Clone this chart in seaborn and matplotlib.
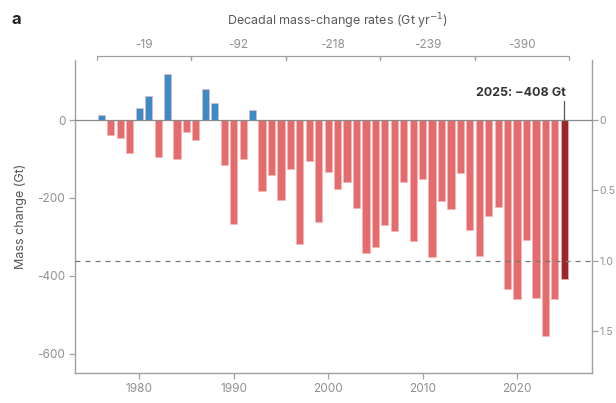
import numpy as np
import pandas as pd
import matplotlib
matplotlib.use("Agg")
import matplotlib.pyplot as plt
import matplotlib.transforms as mtransforms
import seaborn as sns

# Annual glacier mass change (Gt), 1976-2025
years = list(range(1976, 2026))
mass_change = [
    13, -39, -47, -86, 32, 62, -94, 117, -99, -30,
    -51, 81, 45, -116, -266, -99, 26, -182, -140, -206,
    -126, -319, -105, -261, -133, -176, -158, -227, -341, -326,
    -270, -285, -158, -311, -152, -353, -207, -229, -135, -283,
    -349, -246, -223, -435, -461, -307, -458, -555, -461, -408,
]

# Decadal mean rates shown above the bars
decade_starts = [1976, 1986, 1996, 2006, 2016]
decade_rates = ["-19", "-92", "-218", "-239", "-390"]

# Sea-level equivalent axis (mm)
sle_ticks = [0, 0.5, 1.0, 1.5]
sle_labels = ["0", "0.5", "1.0", "1.5"]
GT_PER_MM = 362

latest_year = years[-1]
latest_value = mass_change[-1]

df = pd.DataFrame({"year": years, "gt": mass_change})
df["kind"] = np.where(df["year"] == latest_year, "latest",
                      np.where(df["gt"] >= 0, "gain", "loss"))

palette = {"gain": "#3a8bc8", "loss": "#e56c6c", "latest": "#9b2528"}

sns.set_theme(style="white")
plt.rcParams["font.family"] = ["Inter", "DejaVu Sans"]

fig = plt.figure(figsize=(6.16, 4.03), dpi=100)
ax = fig.add_axes([75 / 616, 30 / 403, (591.7 - 75) / 616, (373 - 59.7) / 403])

sns.barplot(data=df, x="year", y="gt", hue="kind", palette=palette,
            native_scale=True, dodge=False, width=0.76, legend=False,
            saturation=1, edgecolor="#f5b5b5", linewidth=0.4, ax=ax,
            zorder=2)

ax.set_xlim(1973.2, 2027.9)
ax.set_ylim(-650, 155)

grey = "#a0a0a0"
tick_col = "#909090"

# zero line and 1 mm sea-level line
ax.axhline(0, color="#8a8a8a", lw=0.9, zorder=3)
ax.axhline(-GT_PER_MM, color="#777777", lw=0.9, ls=(0, (4, 4)), zorder=3)

for side in ["top", "right"]:
    ax.spines[side].set_visible(False)
for side in ["left", "bottom"]:
    ax.spines[side].set_color(grey)
    ax.spines[side].set_linewidth(1.0)

ax.set_xticks([1980, 1990, 2000, 2010, 2020])
ax.set_xticklabels(["1980", "1990", "2000", "2010", "2020"])
ax.set_yticks([0, -200, -400, -600])
ax.set_yticklabels(["0", "-200", "-400", "-600"])
ax.tick_params(axis="both", which="major", direction="out", length=4,
               width=0.9, color=grey, labelcolor=tick_col, labelsize=8.5,
               pad=3, bottom=True, left=True)
ax.set_xlabel("")
ax.set_ylabel("Mass change (Gt)", color="#555555", fontsize=9, labelpad=7)

# right-hand sea-level-equivalent axis
ax2 = ax.secondary_yaxis("right", functions=(lambda g: -g / GT_PER_MM,
                                             lambda m: -m * GT_PER_MM))
ax2.set_yticks(sle_ticks)
ax2.set_yticklabels(sle_labels)
ax2.spines["right"].set_color(grey)
ax2.spines["right"].set_linewidth(1.0)
ax2.tick_params(axis="y", direction="out", length=4, width=0.9, color=grey,
                labelcolor=tick_col, labelsize=7.5, pad=1.5)

# decadal brackets above the plot
trans = mtransforms.blended_transform_factory(ax.transData, ax.transAxes)
y_br = 1.012
for start, label in zip(decade_starts, decade_rates):
    x0, x1 = start - 0.5, start + 9.5
    ax.plot([x0, x1], [y_br, y_br], color=grey, lw=0.9, transform=trans,
            clip_on=False)
    for xe in (x0, x1):
        ax.plot([xe, xe], [y_br, y_br - 0.012], color=grey, lw=0.9,
                transform=trans, clip_on=False)
    ax.text((x0 + x1) / 2, y_br + 0.016, label, transform=trans,
            ha="center", va="bottom", fontsize=8.5, color=tick_col)

fig.text(0.548, 0.948, "Decadal mass-change rates (Gt yr$^{-1}$)",
         ha="center", va="center", fontsize=9, color="#5a5a5a")
fig.text(0.018, 0.952, "a", ha="left", va="center", fontsize=12,
         fontweight="bold", color="#222222")

# callout for the latest year
ax.plot([latest_year, latest_year], [0, 48], color="#555555", lw=0.9,
        zorder=4)
ax.text(latest_year + 0.2, 70, f"{latest_year}: \u2212{abs(latest_value)} Gt",
        ha="right", va="center", fontsize=9, fontweight="bold",
        color="#333333")

fig.savefig("out.png", dpi=100)
